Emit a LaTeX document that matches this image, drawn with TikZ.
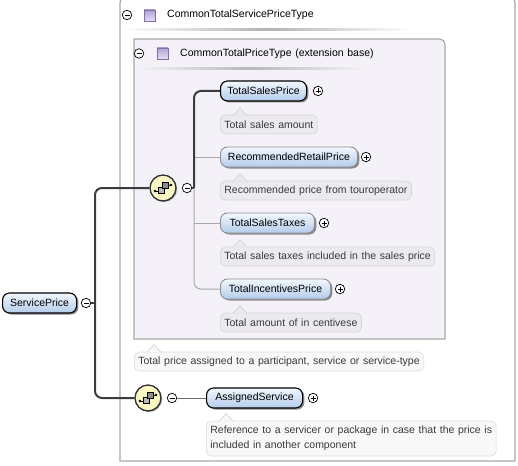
\documentclass[tikz,border=0pt]{standalone}
\usepackage{fontspec}
\setmainfont{Liberation Sans}[WordSpace=1.25]
\usetikzlibrary{shadows}
\definecolor{elemtop}{HTML}{F2F7FD}
\definecolor{elembot}{HTML}{B3CCEB}
\definecolor{optborder}{HTML}{8E8E8E}
\definecolor{shadowc}{HTML}{8A8A8A}
\definecolor{docfill}{HTML}{ECEAEF}
\definecolor{docfillw}{HTML}{F8F8F8}
\definecolor{docborder}{HTML}{D6D6D6}
\definecolor{doctext}{HTML}{3A3A3A}
\definecolor{innerfill}{HTML}{F4F2F8}
\definecolor{boxborder}{HTML}{A8A8A8}
\definecolor{seqfill}{HTML}{FBF6C6}
\definecolor{seqborder}{HTML}{303030}
\definecolor{mandline}{HTML}{3C3C3C}
\definecolor{optline}{HTML}{A8A8A8}
\definecolor{midline}{HTML}{6E6E6E}
\definecolor{sqtop}{HTML}{B2A2D6}
\definecolor{sqbot}{HTML}{E4DEF2}
\definecolor{sqborder}{HTML}{8070A8}
\definecolor{iconsqa}{HTML}{B8B8B8}
\definecolor{iconsqb}{HTML}{8C8C8C}
\newcommand\myfs{\fontsize{10.5pt}{12pt}\selectfont}
\begin{document}
\begin{tikzpicture}[x=1pt,y=-1pt,
  elem/.style={rounded corners=7pt, draw=black, line width=1.1pt,
    top color=elemtop, bottom color=elembot, minimum height=20pt,
    inner sep=0pt, anchor=west, font=\myfs,
    drop shadow={shadow xshift=1.8pt, shadow yshift=-1.5pt, fill=shadowc, opacity=1}},
  optelem/.style={elem, draw=optborder, line width=0.9pt},
  docbox/.style={rounded corners=5pt, draw=docborder, fill=docfill, line width=0.7pt,
    anchor=west, inner xsep=4pt, inner ysep=0pt, minimum height=19pt, align=left,
    font=\myfs, text=doctext},
  pm/.style={circle, draw=black, line width=0.7pt, fill=white, minimum size=9.5pt, inner sep=0pt},
  pminus/.style={pm, path picture={\draw[line width=0.7pt]
     ([xshift=-2.5pt]path picture bounding box.center) -- ([xshift=2.5pt]path picture bounding box.center);}},
  pplus/.style={pm, path picture={\draw[line width=0.7pt]
     ([xshift=-2.5pt]path picture bounding box.center) -- ([xshift=2.5pt]path picture bounding box.center)
     ([yshift=-2.5pt]path picture bounding box.center) -- ([yshift=2.5pt]path picture bounding box.center);}},
  seqnode/.style={circle, draw=seqborder, line width=1.3pt, fill=seqfill, minimum size=26pt, inner sep=0pt,
    drop shadow={shadow xshift=1.2pt, shadow yshift=-1pt, fill=shadowc, opacity=0.7},
    path picture={
      \begin{scope}[shift={(path picture bounding box.center)}]
        \draw[line width=0.8pt, draw=black] (-8,3) -- (-4,3);
        \fill[black] (-8,3) circle (1.3);
        \draw[fill=iconsqa, draw=black, line width=0.6pt] (-4.5,-0.5) rectangle (1.5,5.5);
        \draw[fill=iconsqb, draw=black, line width=0.6pt] (-1,-6) rectangle (5,0);
        \draw[line width=0.8pt] (5,-3) -- (8,-3);
        \fill[black] (8,-3) circle (1.3);
      \end{scope}}},
  sqicon/.style={draw=sqborder, line width=0.6pt, top color=sqtop, bottom color=sqbot,
    minimum size=11pt, inner sep=0pt},
  hdr/.style={anchor=west, inner sep=0pt, font=\myfs},
  mand/.style={draw=mandline, line width=2pt},
  opt/.style={draw=optline, line width=1pt}
]
\useasboundingbox (0,0) rectangle (518,465);

% outer type box
\filldraw[draw=boxborder, fill=white, line width=1.2pt]
  (120,-3) -- (120,461) -- (515,461) [rounded corners=6pt] -- (515,-3) -- cycle;
\node[pminus] (h1m) at (127,15) {};
\node[sqicon] (h1s) at (149.5,15.5) {};
\node[hdr] (h1t) at (167,15) {CommonTotalServicePriceType};
\shade[left color=white, right color=white, middle color=black!30] (123,28.5) rectangle (412,30.3);

% inner extension box
\filldraw[draw=boxborder, fill=innerfill, line width=1.2pt]
  (134,39) -- (134,339) -- (445,339) [rounded corners=6pt] -- (445,39) [sharp corners] -- cycle;
\node[pminus] (h2m) at (139,53.5) {};
\node[sqicon] (h2s) at (162.5,53.5) {};
\node[hdr] (h2t) at (180,53.5) {CommonTotalPriceType (extension base)};
\shade[left color=innerfill, right color=innerfill, middle color=black!28] (136,67.5) rectangle (365,69.3);

% root element
\node[elem, minimum width=74pt] (e0) at (2,303) {ServicePrice};
\node[pminus] (spm) at (86,303) {};
\coordinate (jn) at (95,303);

% sequences
\node[seqnode] (seq1) at (163,188) {};
\node[pminus] (sm1) at (187,188) {};
\coordinate (j2) at (194,188);
\node[seqnode] (seq2) at (148,398) {};
\node[pminus] (sm2) at (172,398) {};

% child elements
\node[elem, minimum width=86pt] (e1) at (220,91) {TotalSalesPrice};
\node[pplus] (p1) at (318,91) {};
\node[docbox] (d1) at (220,124.5) {Total sales amount};

\node[optelem, minimum width=137pt] (e2) at (220,157) {RecommendedRetailPrice};
\node[pplus] (p2) at (366,157) {};
\node[docbox] (d2) at (220,190.5) {Recommended price from touroperator};

\node[optelem, minimum width=94pt] (e3) at (220,223) {TotalSalesTaxes};
\node[pplus] (p3) at (324,223) {};
\node[docbox] (d3) at (220,256.5) {Total sales taxes included in the sales price};

\node[optelem, minimum width=110pt] (e4) at (220,289) {TotalIncentivesPrice};
\node[pplus] (p4) at (340,289) {};
\node[docbox] (d4) at (220,322.5) {Total amount of in centivese};

\node[docbox, fill=docfillw, draw=docborder!80] (d5) at (134,361.5) {Total price assigned to a participant, service or service-type};

\node[elem, minimum width=96pt] (e5) at (206,398) {AssignedService};
\node[pplus] (p5) at (313,398) {};
\node[docbox, fill=docfillw, draw=docborder!80, minimum height=35pt,
  font=\fontsize{10.5pt}{15pt}\selectfont] (d6) at (206,438.5)
  {Reference to a servicer or package in case that the price is\\included in another component};

% doc notches
\foreach \d/\f in {d1/docfill,d2/docfill,d3/docfill,d4/docfill,d5/docfillw,d6/docfillw}{
  \filldraw[fill=\f, draw=docborder, line width=0.7pt]
    ([xshift=13pt,yshift=-0.6pt]\d.north west) -- ([xshift=20pt,yshift=7pt]\d.north west)
    -- ([xshift=27pt,yshift=-0.6pt]\d.north west);
}

% connectors
\draw[mand] (spm.east) -- (jn);
\draw[mand, rounded corners=7pt] (seq1.west) -| (jn) |- (seq2.west);
\draw[mand] (sm1.east) -- (j2);
\draw[opt, rounded corners=7pt] (j2) |- (e4.west);
\draw[opt] (e2.west -| j2) -- (e2.west);
\draw[opt] (e3.west -| j2) -- (e3.west);
\draw[mand, rounded corners=7pt] (j2) |- (e1.west);
\draw[draw=midline, line width=1pt] (sm2.east) -- (e5.west);
\end{tikzpicture}
\end{document}
